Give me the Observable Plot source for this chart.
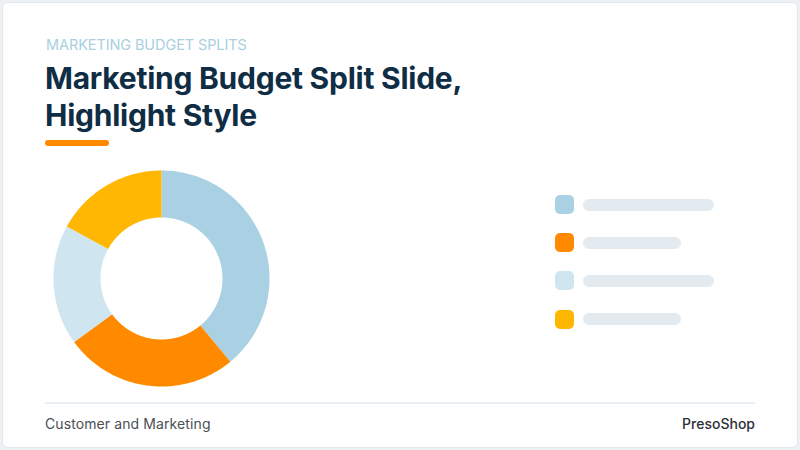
<!DOCTYPE html>
<html>
<head>
<meta charset="utf-8">
<script src="https://cdn.jsdelivr.net/npm/d3@7"></script>
<script src="https://cdn.jsdelivr.net/npm/@observablehq/plot@0.6"></script>
<style>
  html, body { margin: 0; padding: 0; }
  body { width: 800px; height: 450px; background: #eef1f4; font-family: Inter, "Noto Sans", sans-serif; position: relative; overflow: hidden; }
  #card { position: absolute; left: 2px; top: 2px; width: 794px; height: 444px; background: #fff; border: 1px solid #e3e8ec; border-radius: 6px; }
  .abs { position: absolute; white-space: nowrap; }
  #kicker { left: 46px; top: 36px; font-size: 14.5px; line-height: 18px; color: #a9cfe0; letter-spacing: -0.1px; }
  #title { left: 45px; top: 60px; font-size: 30px; line-height: 37px; font-weight: 700; color: #0f2d45; letter-spacing: -0.25px; }
  #underline { left: 45px; top: 140px; width: 64px; height: 6px; border-radius: 3px; background: #ff8a00; }
  #chart { left: 41px; top: 157.5px; }
  #legend { left: 555px; top: 195px; }
  .row { position: absolute; left: 0; height: 19px; }
  .sw { position: absolute; left: 0; top: 0; width: 19px; height: 19px; border-radius: 5px; }
  .bar { position: absolute; left: 28px; top: 3.5px; height: 12px; border-radius: 6px; background: #e3ebf0; }
  #rule { left: 45px; top: 402px; width: 710px; height: 2px; background: #e8eff3; }
  #foot-l { left: 45px; top: 415px; font-size: 14px; line-height: 18px; color: #4a4f55; letter-spacing: 0.1px; }
  #foot-r { right: 45px; top: 415px; font-size: 14px; line-height: 18px; color: #2c3035; font-weight: 500; }
</style>
</head>
<body>
<div id="card"></div>
<div class="abs" id="kicker">MARKETING BUDGET SPLITS</div>
<div class="abs" id="title">Marketing Budget Split Slide,<br>Highlight Style</div>
<div class="abs" id="underline"></div>
<div class="abs" id="chart"></div>
<div class="abs" id="legend"></div>
<div class="abs" id="rule"></div>
<div class="abs" id="foot-l">Customer and Marketing</div>
<div class="abs" id="foot-r">PresoShop</div>
<script>
const categories = ["Segment 1", "Segment 2", "Segment 3", "Segment 4"];
const values = [39, 26, 18, 17];
const colors = ["#a9d1e3", "#ff8a00", "#cfe6f0", "#ffb703"];

const outerR = 108, innerR = 61;
const arcs = d3.pie().sort(null).value(d => d)(values);
const pts = [];
arcs.forEach((a, i) => {
  const n = Math.max(2, Math.ceil((a.endAngle - a.startAngle) / (Math.PI / 180)));
  for (let k = 0; k <= n; k++) {
    const t = a.startAngle + (a.endAngle - a.startAngle) * k / n;
    pts.push({cat: categories[i], x: outerR * Math.sin(t), y: outerR * Math.cos(t)});
  }
  for (let k = n; k >= 0; k--) {
    const t = a.startAngle + (a.endAngle - a.startAngle) * k / n;
    pts.push({cat: categories[i], x: innerR * Math.sin(t), y: innerR * Math.cos(t)});
  }
});

const chart = Plot.plot({
  width: 240, height: 240,
  margin: 0,
  x: {domain: [-120, 120], axis: null},
  y: {domain: [-120, 120], axis: null},
  color: {domain: categories, range: colors},
  marks: [
    Plot.line(pts, {x: "x", y: "y", z: "cat", fill: "cat", stroke: "none", curve: "linear-closed"})
  ]
});
document.getElementById("chart").appendChild(chart);

const legendWidths = [131, 98, 131, 98];
const legend = document.getElementById("legend");
categories.forEach((c, i) => {
  const row = document.createElement("div");
  row.className = "row";
  row.style.top = (i * 38.2) + "px";
  row.title = c;
  const sw = document.createElement("div");
  sw.className = "sw";
  sw.style.background = colors[i];
  const bar = document.createElement("div");
  bar.className = "bar";
  bar.style.width = legendWidths[i] + "px";
  row.appendChild(sw); row.appendChild(bar);
  legend.appendChild(row);
});
</script>
</body>
</html>
